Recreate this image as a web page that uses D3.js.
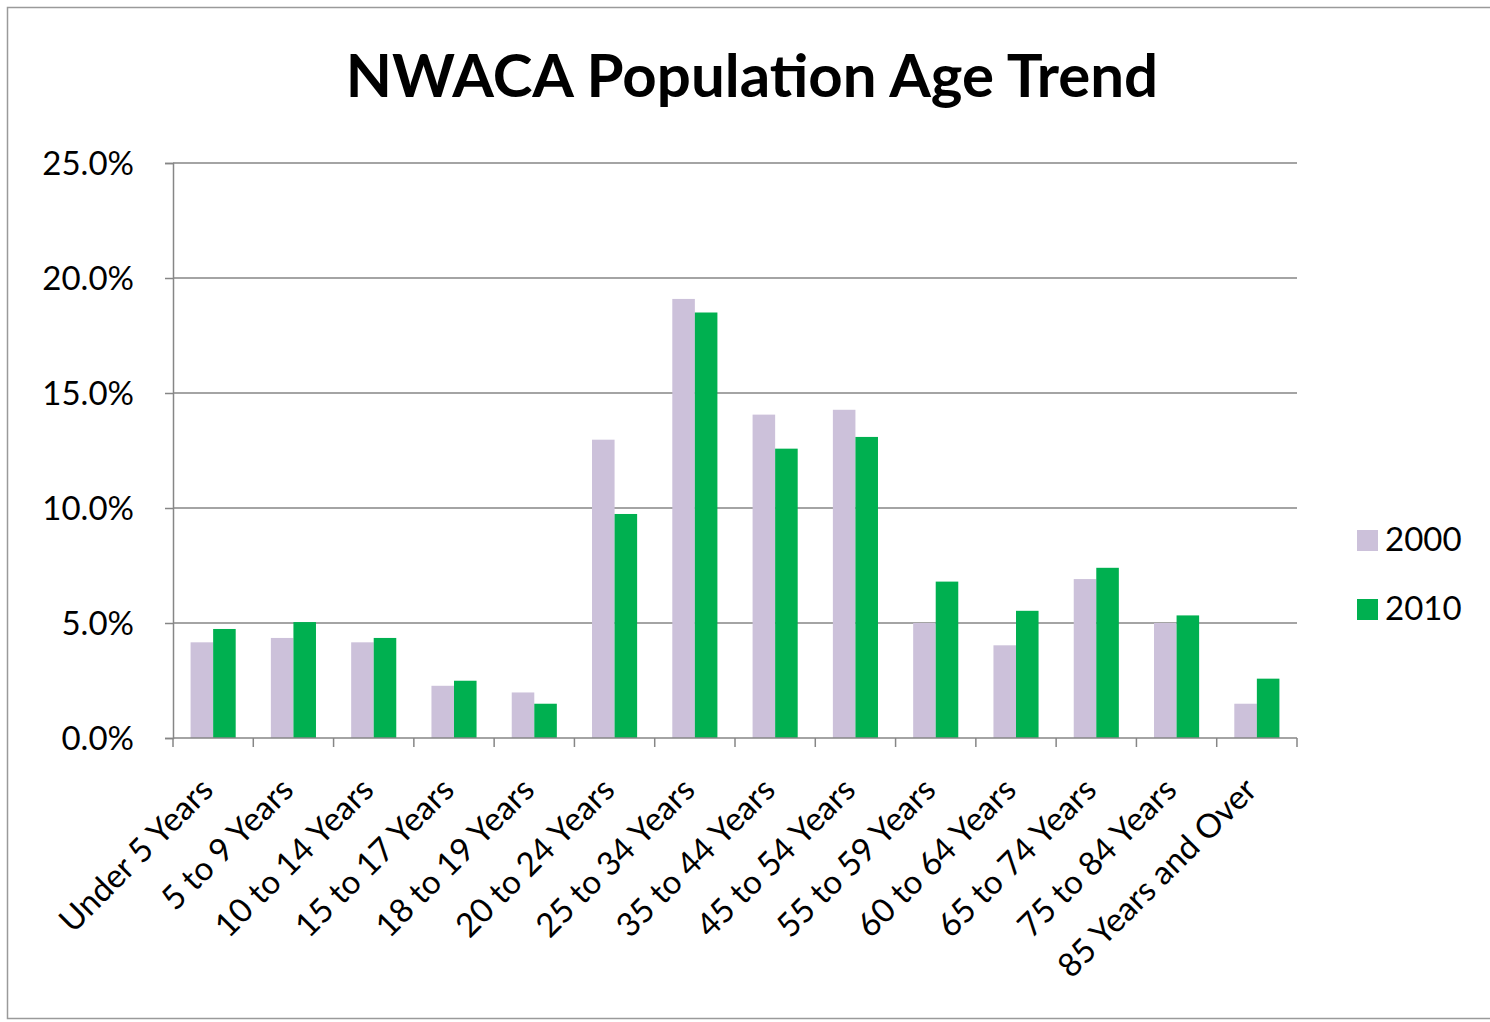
<!DOCTYPE html>
<html>
<head>
<meta charset="utf-8">
<script src="https://cdn.jsdelivr.net/npm/d3@7"></script>
<style>
  body { margin: 0; background: #fff; }
  text { font-family: Lato, "Open Sans", sans-serif; fill: #000; }
</style>
</head>
<body>
<svg id="canvas" width="1490" height="1022"></svg>
<script>
const CATEGORIES = ["Under 5 Years", "5 to 9 Years", "10 to 14 Years", "15 to 17 Years",
  "18 to 19 Years", "20 to 24 Years", "25 to 34 Years", "35 to 44 Years", "45 to 54 Years",
  "55 to 59 Years", "60 to 64 Years", "65 to 74 Years", "75 to 84 Years", "85 Years and Over"];
const SERIES = ["2000", "2010"];
const VALUES_2000 = [4.16, 4.35, 4.16, 2.27, 1.98, 12.97, 19.09, 14.06, 14.27, 5.0, 4.03, 6.91, 5.0, 1.49];
const VALUES_2010 = [4.74, 5.04, 4.35, 2.49, 1.49, 9.74, 18.5, 12.58, 13.09, 6.80, 5.53, 7.40, 5.33, 2.58];
const Y_TICKS = [0, 5, 10, 15, 20, 25];
const COLORS = ["#CCC1DA", "#00B050"];

let svg = d3.select("#canvas")

// chart border
svg.append("rect")
  .attr("x", 7.5).attr("y", 7.5)
  .attr("width", 1500).attr("height", 1011)
  .attr("fill", "none").attr("stroke", "#9a9a9a").attr("stroke-width", 1.5)

svg.append("text")
  .attr("x", 752).attr("y", 97)
  .attr("text-anchor", "middle")
  .style("font-size", "60px").style("font-weight", "bold")
  .text("NWACA Population Age Trend")

let plotLeft = 173, plotRight = 1297, plotTop = 163, plotBottom = 738

let x = d3.scaleBand().domain(CATEGORIES).range([plotLeft, plotRight])
let xs = d3.scaleBand().domain(SERIES).range([0, x.bandwidth()]).paddingInner(0).paddingOuter(0.78)
let y = d3.scaleLinear().domain([0, 25]).range([plotBottom, plotTop])

// gridlines
svg.append("g")
  .selectAll("line")
  .data(Y_TICKS.slice(1))
  .enter()
  .append("line")
  .attr("x1", plotLeft).attr("x2", plotRight)
  .attr("y1", d => y(d)).attr("y2", d => y(d))
  .attr("stroke", "#868686").attr("stroke-width", 1.5)

// y axis
let yAxis = svg.append("g")
  .attr("transform", "translate(" + plotLeft + ",0)")
  .call(d3.axisLeft(y).tickValues(Y_TICKS).tickSize(8).tickPadding(31).tickFormat(d => d.toFixed(1) + "%"))
yAxis.select(".domain").attr("stroke", "#868686").attr("stroke-width", 1.5)
yAxis.selectAll(".tick line").attr("stroke", "#868686").attr("stroke-width", 1.5)
yAxis.selectAll(".tick text").style("font-size", "33px").style("font-family", "Lato, sans-serif").attr("dy", "0.36em")

// bars
let rows = CATEGORIES.map((c, i) => ({ cat: c, vals: [VALUES_2000[i], VALUES_2010[i]] }))
let group = svg.append("g")
  .selectAll("g")
  .data(rows)
  .enter()
  .append("g")
  .attr("transform", d => "translate(" + x(d.cat) + ",0)")

group.selectAll("rect")
  .data(d => d.vals.map((v, j) => ({ series: SERIES[j], value: v, idx: j })))
  .enter()
  .append("rect")
  .attr("x", d => xs(d.series))
  .attr("width", xs.bandwidth())
  .attr("y", d => y(d.value))
  .attr("height", d => plotBottom - y(d.value))
  .attr("fill", d => COLORS[d.idx])

// x axis line and tick marks between categories
svg.append("line")
  .attr("x1", plotLeft).attr("x2", plotRight)
  .attr("y1", plotBottom).attr("y2", plotBottom)
  .attr("stroke", "#868686").attr("stroke-width", 1.5)

let boundaries = CATEGORIES.map(c => x(c)).concat([plotRight])
svg.append("g")
  .selectAll("line")
  .data(boundaries)
  .enter()
  .append("line")
  .attr("x1", d => d).attr("x2", d => d)
  .attr("y1", plotBottom).attr("y2", plotBottom + 9)
  .attr("stroke", "#868686").attr("stroke-width", 1.5)

// category labels
svg.append("g")
  .selectAll("text")
  .data(CATEGORIES)
  .enter()
  .append("text")
  .attr("transform", d => "translate(" + (x(d) + x.bandwidth() / 2 + 2) + "," + (plotBottom + 54) + ") rotate(-45)")
  .attr("text-anchor", "end")
  .style("font-size", "33px")
  .text(d => d)

// legend
let legend = svg.append("g")
  .selectAll("g")
  .data(SERIES)
  .enter()
  .append("g")
  .attr("transform", (d, i) => "translate(1357," + (530 + i * 69) + ")")

legend.append("rect")
  .attr("width", 21).attr("height", 21)
  .attr("fill", (d, i) => COLORS[i])

legend.append("text")
  .attr("x", 28).attr("y", 21)
  .style("font-size", "33px")
  .text(d => d)
</script>
</body>
</html>
